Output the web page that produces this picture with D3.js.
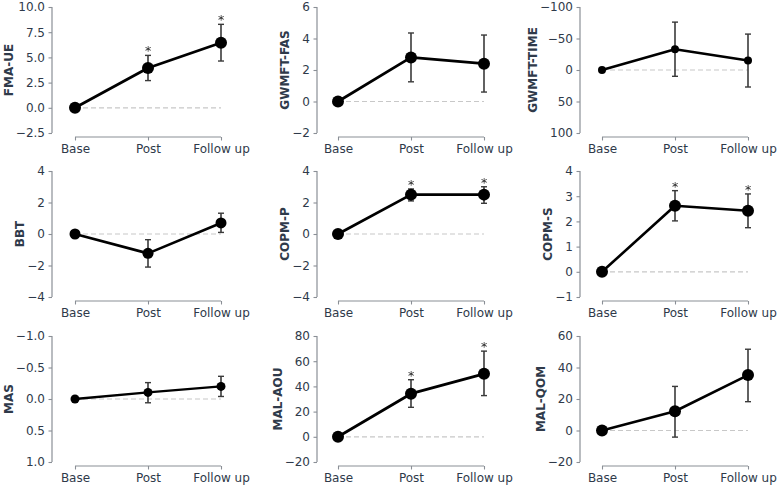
<!DOCTYPE html>
<html>
<head>
<meta charset="utf-8">
<script src="https://cdn.jsdelivr.net/npm/d3@7"></script>
<style>
  html, body { margin: 0; padding: 0; background: #fff; }
  svg { display: block; }
  .star { will-change: transform; }
</style>
</head>
<body>
<svg id="chart" width="779" height="486"></svg>
<script>
// ---------- data ----------
const categories = ["Base", "Post", "Follow up"];
const measures = ["FMA-UE", "GWMFT-FAS", "GWMFT-TIME", "BBT", "COPM-P", "COPM-S", "MAS", "MAL-AOU", "MAL-QOM"];
const meanValues = [
  [0, 3.95, 6.45],
  [0, 2.8, 2.4],
  [0, -33, -15],
  [0, -1.23, 0.7],
  [0, 2.5, 2.5],
  [0, 2.62, 2.42],
  [0, -0.105, -0.2],
  [0, 34.2, 50],
  [0, 12.2, 35.2]
];
const lowerValues = [
  [0, 2.7, 4.64],
  [0, 1.25, 0.6],
  [0, -76, -57],
  [0, -2.1, 0.1],
  [0, 2.1, 1.95],
  [0, 2.02, 1.75],
  [0, -0.26, -0.36],
  [0, 23.4, 32.7],
  [0, -4.2, 18.3]
];
const upperValues = [
  [0, 5.2, 8.28],
  [0, 4.35, 4.22],
  [0, 10, 27],
  [0, -0.36, 1.32],
  [0, 2.86, 3.0],
  [0, 3.22, 3.09],
  [0, 0.06, -0.04],
  [0, 45.3, 68],
  [0, 28, 51.6]
];
const significant = [
  [0, 1, 1],
  [0, 0, 0],
  [0, 0, 0],
  [0, 0, 0],
  [0, 1, 1],
  [0, 1, 1],
  [0, 0, 0],
  [0, 1, 1],
  [0, 0, 0]
];
const yTickValues = [
  [-2.5, 0, 2.5, 5, 7.5, 10],
  [-2, 0, 2, 4, 6],
  [-100, -50, 0, 50, 100],
  [-4, -2, 0, 2, 4],
  [-4, -2, 0, 2, 4],
  [-1, 0, 1, 2, 3, 4],
  [-1, -0.5, 0, 0.5, 1],
  [-20, 0, 20, 40, 60, 80],
  [-20, 0, 20, 40, 60]
];
const yTickFormats = [".1f", "d", "d", "d", "d", "d", ".1f", "d", "d"];
const invertedAxis = [false, false, true, false, false, false, true, false, false];

// ---------- layout / style ----------
const rowTop = [7, 171, 336];
const plotH = 126;
const axisXs = [52, 317, 580];
const baseXs = [75, 338, 602];
const plotW = 146;
const markerR = [6, 6, 4, 5.5, 6, 6, 4.5, 6, 6];
const lineW = [2.8, 2.8, 2.5, 2.6, 2.8, 2.6, 2.4, 2.8, 2.6];
const textColor = "#2f3a4a";
const spineColor = "#8a8f96";
const fontFam = "'DejaVu Sans', sans-serif";

const svg = d3.select("#chart");

measures.forEach((name, i) => {
  const row = Math.floor(i / 3), col = i % 3;
  const top = rowTop[row], bot = top + plotH;
  const ticks = yTickValues[i];
  const lo = d3.min(ticks), hi = d3.max(ticks);

  const x = d3.scalePoint().domain(categories).range([baseXs[col], baseXs[col] + plotW]);
  const y = d3.scaleLinear()
    .domain([lo, hi])
    .range(invertedAxis[i] ? [top, bot] : [bot, top]);

  const g = svg.append("g");

  // y axis
  const yAxis = d3.axisLeft(y).tickValues(ticks).tickSize(3.5).tickPadding(3.5)
    .tickFormat(d3.format(yTickFormats[i]));
  const ya = g.append("g").attr("transform", `translate(${axisXs[col]},0)`).call(yAxis);
  ya.select(".domain").attr("d", `M0,${top}V${bot}`).attr("stroke", spineColor).attr("stroke-width", 1.2);
  ya.selectAll(".tick line").attr("stroke", spineColor).attr("stroke-width", 1.1);
  ya.selectAll(".tick text").attr("fill", textColor).attr("font-size", 12).attr("font-family", fontFam);

  // x axis
  const xAxisY = bot + 4;
  const xAxis = d3.axisBottom(x).tickSize(3.5).tickPadding(3.5);
  const xa = g.append("g").attr("transform", `translate(0,${xAxisY})`).call(xAxis);
  xa.select(".domain").attr("d", `M${baseXs[col]},0H${baseXs[col] + plotW}`).attr("stroke", spineColor).attr("stroke-width", 1.2);
  xa.selectAll(".tick line").attr("stroke", spineColor).attr("stroke-width", 1.1);
  xa.selectAll(".tick text").attr("fill", textColor).attr("font-size", 12).attr("font-family", fontFam);

  // y label
  let maxW = 0;
  ya.selectAll(".tick text").each(function () { maxW = Math.max(maxW, this.getBBox().width); });
  const labelX = axisXs[col] - maxW - 10;
  g.append("text")
    .attr("transform", `translate(${labelX},${(top + bot) / 2}) rotate(-90)`)
    .attr("text-anchor", "middle")
    .attr("fill", textColor)
    .attr("font-size", 12)
    .attr("font-weight", "bold")
    .attr("font-family", fontFam)
    .text(name);

  // zero reference line
  g.append("line")
    .attr("x1", x(categories[0])).attr("x2", x(categories[2]))
    .attr("y1", y(0)).attr("y2", y(0))
    .attr("stroke", "#c8c8c8").attr("stroke-width", 1.2).attr("stroke-dasharray", "5,3");

  const pts = categories.map((c, k) => ({
    c, m: meanValues[i][k], l: lowerValues[i][k], u: upperValues[i][k], s: significant[i][k]
  }));

  // error bars
  const eb = g.selectAll(".eb").data(pts.filter(p => p.l !== p.u)).enter().append("g");
  eb.append("line")
    .attr("x1", p => x(p.c)).attr("x2", p => x(p.c))
    .attr("y1", p => y(p.l)).attr("y2", p => y(p.u))
    .attr("stroke", "#3a3a3a").attr("stroke-width", 1.6);
  eb.append("line")
    .attr("x1", p => x(p.c) - 3).attr("x2", p => x(p.c) + 3)
    .attr("y1", p => y(p.l)).attr("y2", p => y(p.l))
    .attr("stroke", "#3a3a3a").attr("stroke-width", 1.4);
  eb.append("line")
    .attr("x1", p => x(p.c) - 3).attr("x2", p => x(p.c) + 3)
    .attr("y1", p => y(p.u)).attr("y2", p => y(p.u))
    .attr("stroke", "#3a3a3a").attr("stroke-width", 1.4);

  // line
  g.append("path")
    .datum(pts)
    .attr("d", d3.line().x(p => x(p.c)).y(p => y(p.m)))
    .attr("fill", "none").attr("stroke", "#000").attr("stroke-width", lineW[i])
    .attr("stroke-linejoin", "round");

  // markers
  g.selectAll(".pt").data(pts).enter().append("circle")
    .attr("cx", p => x(p.c)).attr("cy", p => y(p.m)).attr("r", markerR[i])
    .attr("fill", "#000");

  // significance stars
  g.selectAll(".star").data(pts.filter(p => p.s)).enter().append("text")
    .attr("class", "star")
    .attr("x", p => x(p.c))
    .attr("y", p => Math.min(y(p.u), y(p.l)))
    .attr("text-anchor", "middle")
    .attr("font-size", 12.5)
    .attr("font-family", fontFam)
    .attr("fill", "#222")
    .attr("opacity", 0.99)
    .text("*");
});
</script>
</body>
</html>
